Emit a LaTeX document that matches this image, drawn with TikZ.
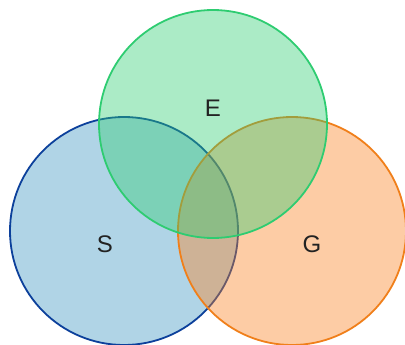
\documentclass[tikz,border=0pt]{standalone}
\usepackage{fontspec}
\setmainfont{Liberation Sans}
\definecolor{sfill}{RGB}{58,148,192}
\definecolor{sline}{RGB}{12,64,155}
\definecolor{efill}{RGB}{46,204,113}
\definecolor{eline}{RGB}{46,204,113}
\definecolor{gfill}{RGB}{250,128,30}
\definecolor{gline}{RGB}{240,127,26}
\definecolor{txt}{RGB}{34,34,34}
\begin{document}
\begin{tikzpicture}[x=1pt,y=-1pt,
  setcirc/.style={circle,minimum size=228pt,inner sep=0pt,line width=1.8pt,fill opacity=0.4,draw opacity=1},
  setlabel/.style={text=txt,font=\fontsize{24}{26}\selectfont,inner sep=0pt}]
\useasboundingbox (0,0) rectangle (405,345);
\node[setcirc,draw=sline,fill=sfill] (S) at (124,231) {};
\node[setcirc,draw=gline,fill=gfill] (G) at (292,231) {};
\node[setcirc,draw=eline,fill=efill] (E) at (213,124) {};
\node[setlabel] (Et) at (213,108) {E};
\node[setlabel] (St) at (105,244) {S};
\node[setlabel] (Gt) at (312,244) {G};
\end{tikzpicture}
\end{document}
